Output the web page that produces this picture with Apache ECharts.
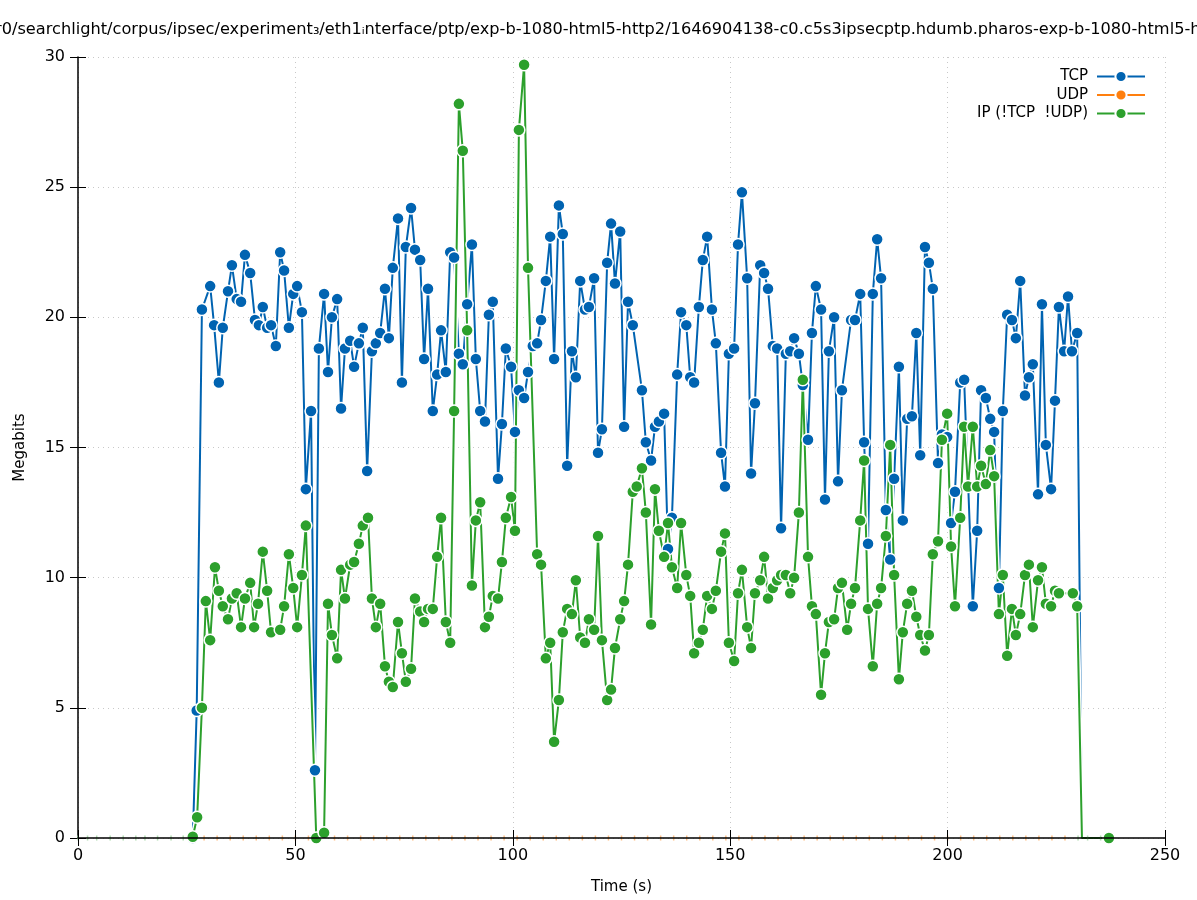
<!DOCTYPE html>
<html>
<head>
<meta charset="utf-8">
<script src="https://cdn.jsdelivr.net/npm/echarts@6/dist/echarts.min.js"></script>
<style>
html,body{margin:0;padding:0;background:#fff;}
#chart{width:1197px;height:900px;}
</style>
</head>
<body>
<div id="chart"></div>
<script>
// ---- data ----
var titleText = 'r0/searchlight/corpus/ipsec/experiment\u2083/eth1\u1d62nterface/ptp/exp-b-1080-html5-http2/1646904138-c0.c5s3ipsecptp.hdumb.pharos-exp-b-1080-html5-http2';
var xTicks = [0, 50, 100, 150, 200, 250];
var yTicks = [0, 5, 10, 15, 20, 25, 30];

var tcpTime = [26.4,27.3,28.5,30.4,31.3,32.4,33.3,34.5,35.4,36.5,37.5,38.4,39.6,40.7,41.6,42.5,43.5,44.4,45.5,46.5,47.4,48.5,49.5,50.4,51.5,52.4,53.6,54.5,55.4,56.6,57.5,58.4,59.6,60.5,61.4,62.6,63.5,64.6,65.5,66.5,67.6,68.5,69.5,70.6,71.5,72.4,73.6,74.5,75.4,76.6,77.5,78.7,79.6,80.5,81.6,82.6,83.5,84.6,85.6,86.5,87.6,88.5,89.5,90.6,91.5,92.5,93.6,94.5,95.4,96.6,97.5,98.4,99.6,100.5,101.4,102.6,103.5,104.6,105.6,106.5,107.6,108.6,109.5,110.6,111.5,112.5,113.6,114.5,115.5,116.6,117.5,118.7,119.6,120.5,121.7,122.6,123.5,124.7,125.6,126.5,127.6,129.7,130.6,131.8,132.7,133.6,134.8,135.7,136.6,137.8,138.7,139.9,140.8,141.7,142.8,143.7,144.7,145.8,146.7,147.9,148.8,149.7,150.9,151.8,152.7,153.9,154.8,155.7,156.9,157.8,158.7,159.8,160.8,161.7,162.8,163.8,164.7,165.8,166.7,167.9,168.8,169.7,170.9,171.8,172.7,173.9,174.8,175.7,177.8,178.7,179.9,180.8,181.7,182.8,183.8,184.7,185.8,186.8,187.7,188.8,189.7,190.7,191.8,192.8,193.7,194.8,195.7,196.6,197.8,198.7,199.9,200.8,201.7,202.9,203.8,205.8,206.8,207.7,208.8,209.8,210.7,211.8,212.7,213.7,214.8,215.7,216.7,217.8,218.7,219.6,220.8,221.7,222.6,223.8,224.7,225.6,226.8,227.7,228.6,229.8,230.9];
var tcpMbit = [0,4.9,20.3,21.2,19.7,17.5,19.6,21.0,22.0,20.7,20.6,22.4,21.7,19.9,19.7,20.4,19.6,19.7,18.9,22.5,21.8,19.6,20.9,21.2,20.2,13.4,16.4,2.6,18.8,20.9,17.9,20.0,20.7,16.5,18.8,19.1,18.1,19.0,19.6,14.1,18.7,19.0,19.4,21.1,19.2,21.9,23.8,17.5,22.7,24.2,22.6,22.2,18.4,21.1,16.4,17.8,19.5,17.9,22.5,22.3,18.6,18.2,20.5,22.8,18.4,16.4,16.0,20.1,20.6,13.8,15.9,18.8,18.1,15.6,17.2,16.9,17.9,18.9,19.0,19.9,21.4,23.1,18.4,24.3,23.2,14.3,18.7,17.7,21.4,20.3,20.4,21.5,14.8,15.7,22.1,23.6,21.3,23.3,15.8,20.6,19.7,17.2,15.2,14.5,15.8,16.0,16.3,11.1,12.3,17.8,20.2,19.7,17.7,17.5,20.4,22.2,23.1,20.3,19.0,14.8,13.5,18.6,18.8,22.8,24.8,21.5,14.0,16.7,22.0,21.7,21.1,18.9,18.8,11.9,18.6,18.7,19.2,18.6,17.4,15.3,19.4,21.2,20.3,13.0,18.7,20.0,13.7,17.2,19.9,19.9,20.9,15.2,11.3,20.9,23.0,21.5,12.6,10.7,13.8,18.1,12.2,16.1,16.2,19.4,14.7,22.7,22.1,21.1,14.4,15.5,15.4,12.1,13.3,17.5,17.6,8.9,11.8,17.2,16.9,16.1,15.6,9.6,16.4,20.1,19.9,19.2,21.4,17.0,17.7,18.2,13.2,20.5,15.1,13.4,16.8,20.4,18.7,20.8,18.7,19.4,0];

var ipTime = [26.4,27.4,28.5,29.4,30.4,31.5,32.4,33.3,34.5,35.4,36.5,37.5,38.4,39.6,40.5,41.4,42.5,43.5,44.4,46.5,47.4,48.5,49.5,50.4,51.5,52.4,54.8,56.6,57.5,58.4,59.6,60.5,61.4,62.6,63.5,64.6,65.5,66.7,67.6,68.5,69.5,70.6,71.5,72.4,73.6,74.5,75.4,76.6,77.5,78.7,79.6,80.5,81.6,82.6,83.5,84.6,85.6,86.5,87.6,88.5,89.5,90.6,91.5,92.5,93.6,94.5,95.4,96.6,97.5,98.4,99.6,100.5,101.4,102.6,103.5,105.6,106.5,107.6,108.6,109.5,110.6,111.5,112.5,113.6,114.5,115.5,116.6,117.5,118.7,119.6,120.5,121.7,122.6,123.5,124.7,125.6,126.5,127.6,128.5,129.7,130.6,131.8,132.7,133.6,134.8,135.7,136.6,137.8,138.7,139.9,140.8,141.7,142.8,143.7,144.7,145.8,146.7,147.9,148.8,149.7,150.9,151.8,152.7,153.9,154.8,155.7,156.9,157.8,158.7,159.8,160.8,161.7,162.8,163.8,164.7,165.8,166.7,167.9,168.8,169.7,170.9,171.8,172.7,173.9,174.8,175.7,176.9,177.8,178.7,179.9,180.8,181.7,182.8,183.8,184.7,185.8,186.8,187.7,188.8,189.7,190.7,191.8,192.8,193.7,194.8,195.7,196.6,197.8,198.7,199.9,200.8,201.7,202.9,203.8,204.7,205.8,206.8,207.7,208.8,209.8,210.7,211.8,212.7,213.7,214.8,215.7,216.7,217.8,218.7,219.6,220.8,221.7,222.6,223.8,224.7,225.6,228.8,229.8,230.9,237.1];
var ipMbit = [0.05,0.8,5.0,9.1,7.6,10.4,9.5,8.9,8.4,9.2,9.4,8.1,9.2,9.8,8.1,9.0,11.0,9.5,7.9,8.0,8.9,10.9,9.6,8.1,10.1,12.0,0.0,0.2,9.0,7.8,6.9,10.3,9.2,10.5,10.6,11.3,12.0,12.3,9.2,8.1,9.0,6.6,6.0,5.8,8.3,7.1,6.0,6.5,9.2,8.7,8.3,8.8,8.8,10.8,12.3,8.3,7.5,16.4,28.2,26.4,19.5,9.7,12.2,12.9,8.1,8.5,9.3,9.2,10.6,12.3,13.1,11.8,27.2,29.7,21.9,10.9,10.5,6.9,7.5,3.7,5.3,7.9,8.8,8.6,9.9,7.7,7.5,8.4,8.0,11.6,7.6,5.3,5.7,7.3,8.4,9.1,10.5,13.3,13.5,14.2,12.5,8.2,13.4,11.8,10.8,12.1,10.4,9.6,12.1,10.1,9.3,7.1,7.5,8.0,9.3,8.8,9.5,11.0,11.7,7.5,6.8,9.4,10.3,8.1,7.3,9.4,9.9,10.8,9.2,9.6,9.9,10.1,10.1,9.4,10.0,12.5,17.6,10.8,8.9,8.6,5.5,7.1,8.3,8.4,9.6,9.8,8.0,9.0,9.6,12.2,14.5,8.8,6.6,9.0,9.6,11.6,15.1,10.1,6.1,7.9,9.0,9.5,8.5,7.8,7.2,7.8,10.9,11.4,15.3,16.3,11.2,8.9,12.3,15.8,13.5,15.8,13.5,14.3,13.6,14.9,13.9,8.6,10.1,7.0,8.8,7.8,8.6,10.1,10.5,8.1,9.9,10.4,9.0,8.9,9.5,9.4,9.4,8.9,0.0,0.0];

var udpTime = [29,32,35,38,41,44,47,50,53,56,59,62,65,68,71,74,77,80,83,86,89,92,95,98,101,104,107,110,113,116,119,122,125,128,131,134,137,140,143,146,149,152,155,158,161,164,167,170,173,176,179,182,185,188,191,194,197,200,203,206,209,212,215,218,221,224,227];
var ipZeroTime = [0,2.2,4.3,7.4,10.4,13.3,15.4,18.3,21.4,24.2,230,232.2,235.2];

// ---- build ----
var FONT = 'DejaVu Sans';
var C_TCP = '#0063b1', C_UDP = '#ff7f0e', C_IP = '#2ca02c';

function pairs(t, v, noSymbolIdx) {
  return t.map(function (x, i) {
    var item = { value: [x, v[i]] };
    if (noSymbolIdx && noSymbolIdx.indexOf(i) >= 0) item.symbol = 'none';
    return item;
  });
}
var tcpData = pairs(tcpTime, tcpMbit, [tcpTime.length - 1]);
var ipData = pairs(ipTime, ipMbit, [ipTime.length - 2]);
var udpData = udpTime.map(function (t) {
  return { value: [t, 0], symbol: 'rect', symbolSize: [1.5, 5], itemStyle: { color: '#ffbf85', borderWidth: 0 } };
});
var ipZeroData = ipZeroTime.map(function (t) { return [t, 0]; });

function halo(data) {
  return {
    type: 'line', data: data.map(function (d) { return d.value; }), symbol: 'none',
    lineStyle: { color: '#ffffff', width: 5 }, silent: true, z: 2, animation: false
  };
}
function mainLine(name, color, data) {
  return {
    name: name, type: 'line', data: data, symbol: 'circle', symbolSize: 12, showAllSymbol: true,
    lineStyle: { color: color, width: 2 },
    itemStyle: { color: color, borderColor: '#ffffff', borderWidth: 1.5 },
    z: 2, animation: false
  };
}

var chart = echarts.init(document.getElementById('chart'), null, { renderer: 'canvas' });
var option = {
  backgroundColor: '#ffffff',
  animation: false,
  textStyle: { fontFamily: FONT },
  graphic: [{
    type: 'text', left: -5, top: 22,
    style: { text: titleText, fontFamily: FONT, fontSize: 16.2, fill: '#000' }
  }],
  legend: {
    orient: 'vertical', right: 46, top: 64, align: 'right',
    itemWidth: 48, itemHeight: 14, itemGap: 3.5,
    textStyle: { fontFamily: FONT, fontSize: 15, color: '#000', padding: [0, 4, 0, 0] }
  },
  grid: { left: 78, right: 32, top: 57, bottom: 62, containLabel: false },
  xAxis: [{
    type: 'value', min: 0, max: 250, interval: 50,
    name: 'Time (s)', nameLocation: 'middle', nameGap: 42,
    nameTextStyle: { fontFamily: FONT, fontSize: 15, color: '#000' },
    axisLine: { show: false },
    axisTick: { show: false },
    axisLabel: { fontFamily: FONT, fontSize: 16, color: '#000', margin: 10 },
    splitLine: { show: true, lineStyle: { color: '#c8c8c8', type: [1, 4], width: 1 } }
  }, {
    type: 'value', min: 0, max: 250, interval: 50, position: 'bottom', z: 10,
    axisLine: { show: true, onZero: false, lineStyle: { color: '#000', width: 1.5 } },
    axisTick: { show: true, inside: true, length: 8, lineStyle: { color: '#000' } },
    axisLabel: { show: false }, splitLine: { show: false }
  }, {
    type: 'value', min: 0, max: 250, interval: 50, position: 'top', z: 10,
    axisLine: { show: false },
    axisTick: { show: true, inside: true, length: 8, lineStyle: { color: '#000' } },
    axisLabel: { show: false }, splitLine: { show: false }
  }],
  yAxis: [{
    type: 'value', min: 0, max: 30, interval: 5,
    name: 'Megabits', nameLocation: 'middle', nameGap: 50,
    nameTextStyle: { fontFamily: FONT, fontSize: 15, color: '#000' },
    axisLine: { show: true, lineStyle: { color: '#000', width: 1.5 } },
    axisTick: { show: true, inside: true, length: 8, lineStyle: { color: '#000' } },
    axisLabel: { fontFamily: FONT, fontSize: 16, color: '#000', margin: 13 },
    splitLine: { show: true, lineStyle: { color: '#c8c8c8', type: [1, 4], width: 1 } }
  }, {
    type: 'value', min: 0, max: 30, interval: 5, position: 'right',
    axisLine: { show: false },
    axisTick: { show: true, inside: true, length: 8, lineStyle: { color: '#000' } },
    axisLabel: { show: false }, splitLine: { show: false }
  }],
  series: [
    halo(tcpData),
    mainLine('TCP', C_TCP, tcpData),
    {
      name: 'UDP', type: 'line', data: udpData, symbol: 'circle', symbolSize: 12,
      lineStyle: { color: C_UDP, width: 2, opacity: 0 },
      itemStyle: { color: C_UDP, borderColor: '#ffffff', borderWidth: 1.5 },
      z: 2, animation: false
    },
    {
      type: 'scatter', data: ipZeroData, symbol: 'rect', symbolSize: [1.5, 5],
      itemStyle: { color: '#9fd49f' }, silent: true, z: 2, animation: false
    },
    halo(ipData),
    mainLine('IP (!TCP  !UDP)', C_IP, ipData)
  ]
};
option.legend.data = [
  { name: 'TCP' },
  { name: 'UDP', lineStyle: { opacity: 1, color: C_UDP, width: 2 } },
  { name: 'IP (!TCP  !UDP)' }
];
chart.setOption(option);
</script>
</body>
</html>
